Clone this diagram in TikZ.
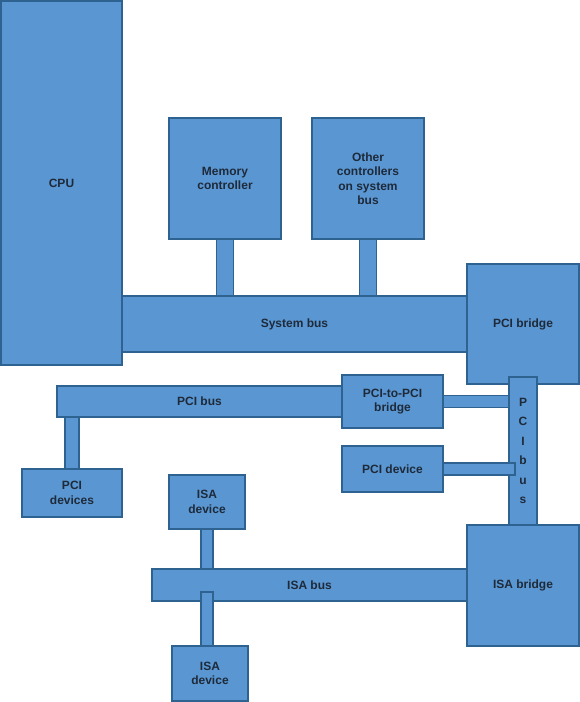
\documentclass[tikz,border=0pt]{standalone}
\usepackage{fontspec}
\setmainfont{Liberation Sans}
\definecolor{boxfill}{HTML}{5A97D2}
\definecolor{boxedge}{HTML}{2E6291}
\definecolor{boxtext}{HTML}{1E2A3A}

\begin{document}
\begin{tikzpicture}[x=1pt,y=-1pt,
  unit/.style={draw=boxedge,fill=boxfill,line width=1.2pt,inner sep=0pt,outer sep=0pt,
    text=boxtext,font=\bfseries\fontsize{12}{14.5}\selectfont,align=center},
  stub/.style={draw=boxedge,fill=boxfill,line width=1.2pt}]
\useasboundingbox (0,0) rectangle (580,702);

% ---- top part: cpu, controllers, system bus
\node[unit,minimum width=121,minimum height=364] (cpu) at (61.5,183) {CPU};
\node[unit,minimum width=112,minimum height=121] (mem) at (225,178.5) {Memory\\controller};
\node[unit,minimum width=112,minimum height=121] (other) at (368,178.5) {Other\\controllers\\on system\\bus};
\node[unit,minimum width=345,minimum height=56] (sysbus) at (294.5,324) {System bus};
\node[unit,minimum width=112,minimum height=120] (pcibr) at (523,324) {PCI bridge};
\draw[stub] ([xshift=-8.5]mem.south) rectangle ([xshift=8.5]mem.south |- sysbus.north);
\draw[stub] ([xshift=-8.5]other.south) rectangle ([xshift=8.5]other.south |- sysbus.north);

% ---- pci bus (vertical) and what hangs on it
\node[unit,minimum width=28,minimum height=148,font=\bfseries\fontsize{12}{19.5}\selectfont] (pcibus) at (523,451) {P\\C\\I\\b\\u\\s};
\node[unit,minimum width=101,minimum height=53] (ptop) at (392.5,401.5) {PCI-to-PCI\\bridge};
\node[unit,minimum width=101,minimum height=46] (pcidev) at (392.5,469) {PCI device};
\draw[stub] ([yshift=-6]ptop.east) rectangle ([yshift=6]ptop.east -| pcibus.west);
\draw[stub] ([yshift=-6]pcidev.east) rectangle ([xshift=6,yshift=6]pcidev.east -| pcibus.west);

% ---- second pci bus (horizontal)
\node[unit,minimum width=285,minimum height=31] (pcibus2) at (199.5,401.5) {PCI bus};
\node[unit,minimum width=100,minimum height=48] (pcidevs) at (72,493) {PCI\\devices};
\draw[stub] ([xshift=-7]pcidevs.north) rectangle ([xshift=7]pcidevs.north |- pcibus2.south);

% ---- isa part
\node[unit,minimum width=112,minimum height=121] (isabr) at (523,585.5) {ISA bridge};
\node[unit,minimum width=315,minimum height=32] (isabus) at (309.5,585) {ISA bus};
\node[unit,minimum width=76,minimum height=54] (isatop) at (207,502) {ISA\\device};
\node[unit,minimum width=76,minimum height=55] (isabot) at (210,673.5) {ISA\\device};
\draw[stub] ([xshift=-6]isatop.south) rectangle ([xshift=6]isatop.south |- isabus.north);
\draw[stub] ([xshift=-9]isabot.north) rectangle ([xshift=3,yshift=54]isabot.north);

\end{tikzpicture}
\end{document}
